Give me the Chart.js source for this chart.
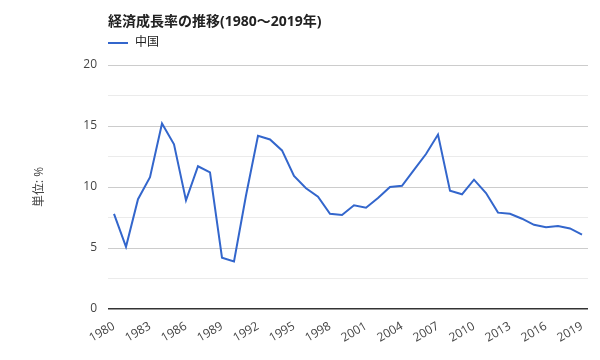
<!DOCTYPE html>
<html>
<head>
<meta charset="utf-8">
<script src="https://cdn.jsdelivr.net/npm/chart.js@4"></script>
<style>
  html, body { margin: 0; padding: 0; background: #fff; }
  #wrap { width: 600px; height: 360px; position: relative; }
</style>
</head>
<body>
<div id="wrap"><canvas id="growth-chart"></canvas></div>
<script>
const chartTitle = '経済成長率の推移(1980〜2019年)';
const seriesLabel = '中国';
const axisTitle = '単位: %';

const years = [
  1980, 1981, 1982, 1983, 1984, 1985, 1986, 1987, 1988, 1989,
  1990, 1991, 1992, 1993, 1994, 1995, 1996, 1997, 1998, 1999,
  2000, 2001, 2002, 2003, 2004, 2005, 2006, 2007, 2008, 2009,
  2010, 2011, 2012, 2013, 2014, 2015, 2016, 2017, 2018, 2019,
];
const growthRates = [
  7.8, 5.1, 9.0, 10.8, 15.2, 13.5, 8.9, 11.7, 11.2, 4.2,
  3.9, 9.3, 14.2, 13.9, 13.0, 10.9, 9.9, 9.2, 7.8, 7.7,
  8.5, 8.3, 9.1, 10.0, 10.1, 11.4, 12.7, 14.3, 9.7, 9.4,
  10.6, 9.5, 7.9, 7.8, 7.4, 6.9, 6.7, 6.8, 6.6, 6.1,
];
const yMax = 20;
const labelEvery = 3;

const FONT = '"Open Sans", "Noto Sans CJK JP", sans-serif';
const LINE_COLOR = '#3366cc';

// title + legend drawn at the plot's left edge
const headerPlugin = {
  id: 'header',
  afterDraw(chart) {
    const { ctx, chartArea } = chart;
    const left = chartArea.left;
    ctx.save();
    ctx.textBaseline = 'middle';
    ctx.fillStyle = '#222';
    ctx.font = `bold 14px ${FONT}`;
    ctx.fillText(chartTitle, left, 22);
    ctx.strokeStyle = LINE_COLOR;
    ctx.lineWidth = 2;
    ctx.beginPath();
    ctx.moveTo(left, 43);
    ctx.lineTo(left + 20, 43);
    ctx.stroke();
    ctx.font = `12px ${FONT}`;
    ctx.fillStyle = '#222';
    ctx.fillText(seriesLabel, left + 27, 43);
    ctx.restore();
  },
};

new Chart(document.getElementById('growth-chart'), {
  type: 'line',
  data: {
    labels: years.map(String),
    datasets: [
      {
        label: seriesLabel,
        data: growthRates,
        borderColor: LINE_COLOR,
        backgroundColor: LINE_COLOR,
        borderWidth: 2,
        pointRadius: 0,
        tension: 0,
      },
    ],
  },
  options: {
    responsive: true,
    maintainAspectRatio: false,
    animation: false,
    layout: { padding: { left: 32, right: 12, top: 65, bottom: 0 } },
    plugins: {
      legend: { display: false },
      title: { display: false },
      tooltip: { enabled: false },
    },
    scales: {
      x: {
        offset: true,
        grid: { display: false },
        border: { display: false },
        ticks: {
          autoSkip: false,
          maxRotation: 30,
          minRotation: 30,
          padding: 2,
          color: '#444',
          font: { family: FONT, size: 12 },
          callback: (value, index) => (index % labelEvery === 0 ? years[index] : ''),
        },
        afterFit: (scale) => { scale.height = 51; },
      },
      y: {
        min: 0,
        max: yMax,
        border: { display: false },
        grid: {
          drawTicks: false,
          color: (ctx) => {
            const v = ctx.tick.value;
            if (v === 0) return '#333';
            return v % 5 === 0 ? '#cccccc' : '#ebebeb';
          },
          lineWidth: (ctx) => (ctx.tick.value === 0 ? 1.5 : 1),
        },
        ticks: {
          stepSize: 2.5,
          padding: 11,
          color: '#444',
          font: { family: FONT, size: 12 },
          callback: (value) => (value % 5 === 0 ? value : ''),
        },
        title: {
          display: true,
          text: axisTitle,
          color: '#444',
          padding: 0,
          font: { family: FONT, size: 12 },
        },
        afterFit: (scale) => { scale.width = 76; },
      },
    },
  },
  plugins: [headerPlugin],
});
</script>
</body>
</html>
